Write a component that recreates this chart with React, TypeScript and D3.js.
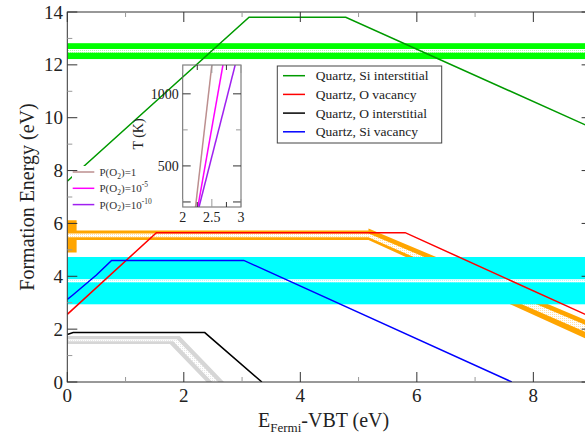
import React from 'react';
import * as d3 from 'd3';

const W = 585, H = 436;
const FONT = "'Liberation Serif', 'Times New Roman', serif";

// axis ticks
const xMajor = [0, 2, 4, 6, 8];
const xMinor = [1, 3, 5, 7];
const yMajor = [0, 2, 4, 6, 8, 10, 12, 14];
const yMinor = [1, 3, 5, 7, 9, 11, 13];

// defect formation energy lines
const siIntX = [0, 3.12, 4.78, 9];
const siIntY = [7.6, 13.8, 13.8, 9.62];
const oVacX = [0, 1.53, 5.8, 9];
const oVacY = [2.56, 5.65, 5.65, 2.45];
const oIntX = [0, 0.1, 2.36, 3.34];
const oIntY = [1.8, 1.87, 1.87, 0];
const siVacX = [0, 0.1, 0.5, 0.76, 3.03, 7.63];
const siVacY = [3.12, 3.3, 4.05, 4.6, 4.6, 0];

// horizontal bands [lo, hi]
const greenBand = [12.22, 12.82];
const greenStripe = [12.46, 12.6];
const cyanBand = [2.94, 4.73];
const cyanStripe = [3.77, 3.89];

// orange band (x, lo, hi)
const orangeX = [0, 0.16, 0.16, 5.17, 5.17, 9];
const orangeLo = [4.9, 4.9, 5.37, 5.37, 5.37, 1.54];
const orangeHi = [6.12, 6.12, 5.73, 5.73, 5.81, 2.25];
const orangeStripeX = [0, 5.17, 9];
const orangeStripeLo = [5.48, 5.48, 1.79];
const orangeStripeHi = [5.62, 5.62, 2.06];

// grey band
const greyX = [0, 1.76, 1.93, 2.39, 2.69];
const greyLo = [1.44, 1.44, 1.05, 0, 0];
const greyHi = [1.74, 1.74, 1.74, 0.687, 0];
const greyStripeX = [0, 1.82, 1.88, 2.49, 2.59];
const greyStripeLo = [1.54, 1.54, 1.402, 0, 0];
const greyStripeHi = [1.62, 1.62, 1.62, 0.229, 0];

// legend
const legendLabels = ['Quartz, Si interstitial', 'Quartz, O vacancy', 'Quartz, O interstitial', 'Quartz, Si vacancy'];
const legendColors = ['#009a00', '#ff0000', '#000000', '#0000ff'];

// inset: T (K) vs E_Fermi for 3 oxygen pressures
const insetT = [215, 1200];
const insetP1 = [2.22, 2.5];
const insetP5 = [2.26, 2.69];
const insetP10 = [2.28, 2.9];
const insetColors = ['#bc8f8f', '#ff00ff', '#a020f0'];
const insetXTicksMajor = [2, 2.5, 3];
const insetXTicksMinor = [2.25, 2.75];
const insetYLabels = [500, 1000];
const insetYTicksMinor = [750];
const insetYTicksLong = [250, 500, 1000];
const pLegendExp = ['', '-5', '-10'];

export default function App() {
  const L = 67.3, R = 591.6, T = 12, B = 382;
  const x = d3.scaleLinear().domain([0, 9]).range([L, R]);
  const y = d3.scaleLinear().domain([0, 14]).range([B, T]);
  const line = d3.line<[number, number]>().x(d => x(d[0])).y(d => y(d[1]));
  const area = d3.area<[number, number, number]>().x(d => x(d[0])).y0(d => y(d[1])).y1(d => y(d[2]));
  const zip2 = (a: number[], b: number[]) => a.map((v, i) => [v, b[i]] as [number, number]);
  const zip3 = (a: number[], b: number[], c: number[]) => a.map((v, i) => [v, b[i], c[i]] as [number, number, number]);

  const series = [
    { xs: siIntX, ys: siIntY, c: legendColors[0] },
    { xs: oVacX, ys: oVacY, c: legendColors[1] },
    { xs: oIntX, ys: oIntY, c: legendColors[2] },
    { xs: siVacX, ys: siVacY, c: legendColors[3] },
  ];

  // inset scales
  const iL = 182.7, iR = 241, iT = 65, iB = 207;
  const ix = d3.scaleLinear().domain([2, 3]).range([iL, iR]);
  const iy = d3.scaleLinear().domain([215, 1200]).range([iB, iT]);
  const insetLines = [insetP1, insetP5, insetP10];

  const hband = (b: number[], fill: string, key: string) => (
    <rect key={key} x={L} width={R - L} y={y(b[1])} height={y(b[0]) - y(b[1])} fill={fill} />
  );

  const dotPattern = (id: string, color: string) => (
    <pattern id={id} width={2} height={2} patternUnits="userSpaceOnUse">
      <rect width={2} height={2} fill="#ffffff" />
      <rect width={1} height={1} fill={color} opacity={0.35} />
    </pattern>
  );

  return (
    <svg width={W} height={H} style={{ position: 'absolute', left: 0, top: 0, background: '#fff' }} fontFamily={FONT}>
      <defs>
        <clipPath id="plotClip"><rect x={L} y={T} width={R - L} height={B - T} /></clipPath>
        <clipPath id="insetClip"><rect x={iL} y={iT} width={iR - iL} height={iB - iT} /></clipPath>
        {dotPattern('dotGreen', '#00ff00')}
        {dotPattern('dotCyan', '#00ffff')}
        {dotPattern('dotOrange', '#ffa500')}
        {dotPattern('dotGrey', '#bbbbbb')}
      </defs>
      <rect width={W} height={H} fill="#fff" />
      <g clipPath="url(#plotClip)">
        <path d={area(zip3(orangeX, orangeLo, orangeHi)) || ''} fill="#ffa500" />
        <path d={area(zip3(orangeStripeX, orangeStripeLo, orangeStripeHi)) || ''} fill="url(#dotOrange)" />
        {hband(greenBand, '#00ff00', 'g1')}
        {hband(greenStripe, 'url(#dotGreen)', 'g2')}
        {hband(cyanBand, '#00ffff', 'c1')}
        {hband(cyanStripe, 'url(#dotCyan)', 'c2')}
        <path d={area(zip3(greyX, greyLo, greyHi)) || ''} fill="#d6d6d6" />
        <path d={area(zip3(greyStripeX, greyStripeLo, greyStripeHi)) || ''} fill="url(#dotGrey)" />
        {series.map((s, i) => (
          <path key={i} d={line(zip2(s.xs, s.ys)) || ''} fill="none" stroke={s.c} strokeWidth={1.5} />
        ))}
      </g>

      {/* small P(O2) legend */}
      <rect x={72} y={166} width={88} height={46} fill="#fff" />
      {pLegendExp.map((e, i) => {
        const ly = 172 + i * 16.3;
        return (
          <g key={i}>
            <line x1={72.7} x2={94.3} y1={ly} y2={ly} stroke={insetColors[i]} strokeWidth={1.5} />
            <text x={99.5} y={ly + 4} fontSize={11} fill="#333">
              P(O<tspan fontSize={7.5} dy={2.5}>2</tspan><tspan dy={-2.5}>)=</tspan>
              {e === '' ? <tspan>1</tspan> : <tspan>10<tspan fontSize={7.5} dy={-5}>{e}</tspan></tspan>}
            </text>
          </g>
        );
      })}

      {/* inset */}
      <g clipPath="url(#insetClip)">
        {insetLines.map((xs, i) => (
          <line key={i} x1={ix(xs[0])} y1={iy(insetT[0])} x2={ix(xs[1])} y2={iy(insetT[1])} stroke={insetColors[i]} strokeWidth={1.5} />
        ))}
      </g>
      <rect x={iL} y={iT} width={iR - iL} height={iB - iT} fill="none" stroke="#666" strokeWidth={1} />
      {insetYTicksLong.map(v => (
        <g key={'iyl' + v}>
          <line x1={iL} x2={iL + 8} y1={iy(v)} y2={iy(v)} stroke="#333" />
          <line x1={iR} x2={iR - 8} y1={iy(v)} y2={iy(v)} stroke="#333" />
        </g>
      ))}
      {insetYTicksMinor.map(v => (
        <g key={'iym' + v}>
          <line x1={iL} x2={iL + 5} y1={iy(v)} y2={iy(v)} stroke="#999" />
          <line x1={iR} x2={iR - 5} y1={iy(v)} y2={iy(v)} stroke="#999" />
        </g>
      ))}
      {insetYLabels.map(v => (
        <text key={'iyt' + v} x={iL - 4} y={iy(v) + 5} fontSize={14} textAnchor="end" fill="#222">{v}</text>
      ))}
      {insetXTicksMajor.map(v => (
        <g key={'ixM' + v}>
          <line x1={ix(v)} x2={ix(v)} y1={iB} y2={iB - 8} stroke="#999" />
          <line x1={ix(v)} x2={ix(v)} y1={iT} y2={iT + 8} stroke="#999" />
          <text x={ix(v)} y={iB + 15} fontSize={14} textAnchor="middle" fill="#222">{v}</text>
        </g>
      ))}
      {insetXTicksMinor.map(v => (
        <g key={'ixm' + v}>
          <line x1={ix(v)} x2={ix(v)} y1={iB} y2={iB - 5} stroke="#333" />
          <line x1={ix(v)} x2={ix(v)} y1={iT} y2={iT + 5} stroke="#333" />
        </g>
      ))}
      <text transform={`translate(143,${(iT + iB) / 2 - 2}) rotate(-90)`} fontSize={14} textAnchor="middle" fill="#222">T (K)</text>

      {/* main legend */}
      <rect x={277.3} y={66} width={164.4} height={77} fill="#fff" stroke="#444" strokeWidth={1} />
      {legendLabels.map((lab, i) => {
        const ly = 75.7 + i * 18.7;
        return (
          <g key={lab}>
            <line x1={283} x2={305} y1={ly} y2={ly} stroke={legendColors[i]} strokeWidth={1.5} />
            <text x={315.7} y={ly + 4.5} fontSize={13.5} fill="#222">{lab}</text>
          </g>
        );
      })}

      {/* frame and ticks */}
      <rect x={L} y={T} width={R - L} height={B - T} fill="none" stroke="#333" strokeWidth={1} />
      {xMajor.map(v => (
        <g key={'xM' + v}>
          <line x1={x(v)} x2={x(v)} y1={B} y2={B - 10} stroke="#333" />
          <line x1={x(v)} x2={x(v)} y1={T} y2={T + 10} stroke="#333" />
          <text x={x(v)} y={402} fontSize={19} textAnchor="middle" fill="#222">{v}</text>
        </g>
      ))}
      {xMinor.map(v => (
        <g key={'xm' + v}>
          <line x1={x(v)} x2={x(v)} y1={B} y2={B - 5} stroke="#999" />
          <line x1={x(v)} x2={x(v)} y1={T} y2={T + 5} stroke="#999" />
        </g>
      ))}
      {yMajor.map(v => (
        <g key={'yM' + v}>
          <line x1={L} x2={L + 10} y1={y(v)} y2={y(v)} stroke="#333" />
          <line x1={R} x2={R - 10} y1={y(v)} y2={y(v)} stroke="#333" />
          <text x={63} y={y(v) + 6.5} fontSize={19} textAnchor="end" fill="#222">{v}</text>
        </g>
      ))}
      {yMinor.map(v => (
        <g key={'ym' + v}>
          <line x1={L} x2={L + 5} y1={y(v)} y2={y(v)} stroke="#999" />
          <line x1={R} x2={R - 5} y1={y(v)} y2={y(v)} stroke="#999" />
        </g>
      ))}

      {/* axis titles */}
      <text x={258} y={427} fontSize={20} fill="#222">
        E<tspan fontSize={13} dy={5}>Fermi</tspan><tspan dy={-5}>-VBT (eV)</tspan>
      </text>
      <text transform={`translate(34,${(T + B) / 2}) rotate(-90)`} fontSize={20} textAnchor="middle" fill="#222">Formation Energy (eV)</text>
    </svg>
  );
}
